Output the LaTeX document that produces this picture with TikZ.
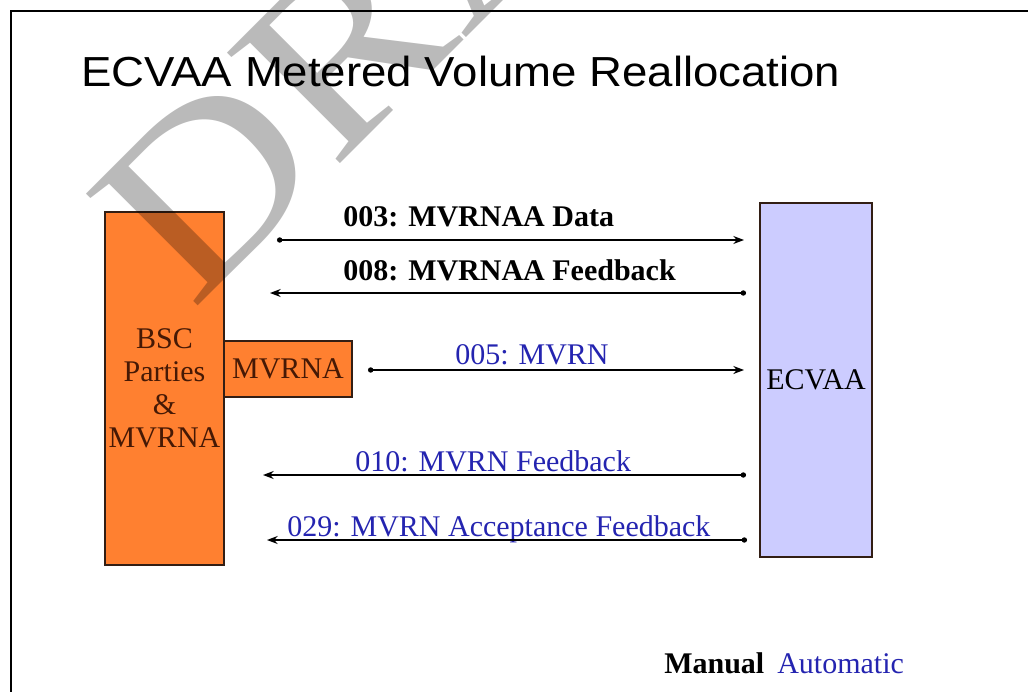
\documentclass[tikz,border=0pt]{standalone}
\usepackage{fontspec}
\setmainfont{Liberation Serif}
\newfontfamily\titlefont[FakeStretch=1.085]{Liberation Sans}
\newfontfamily\draftfont[FakeStretch=1.15]{Liberation Serif}
\usetikzlibrary{arrows.meta}
\definecolor{bscorange}{RGB}{255,128,48}
\definecolor{ecvaablue}{RGB}{204,204,255}
\definecolor{autoblue}{RGB}{36,36,176}
\definecolor{boxline}{RGB}{50,30,20}
\definecolor{bsctext}{RGB}{70,25,5}
\tikzset{
    box/.style={draw=boxline, line width=1.1pt, inner sep=0pt, align=center,
        font=\fontsize{22.5}{24.75}\selectfont},
    manmsg/.style={anchor=base west, inner sep=0pt, font=\fontsize{22.5}{25}\selectfont\bfseries},
    automsg/.style={anchor=base west, inner sep=0pt, text=autoblue, font=\fontsize{22.5}{25}\selectfont},
    msg/.style={line width=1pt, {Circle[length=4pt]}-{Stealth[length=8pt,width=6pt]}},
    watermark/.style={rotate=45, anchor=base west, inner sep=0pt, text=black,
        text opacity=0.27, font=\draftfont\fontsize{181}{200}\selectfont}
}

\begin{document}
\begin{tikzpicture}[x=0.75pt, y=-0.75pt]
    \useasboundingbox (0,0) rectangle (1028,692);
    \draw[line width=1.6pt] (11,692) -- (11,11) -- (1028,11);

    \node[anchor=base west, inner sep=0pt, font=\titlefont\fontsize{31.5}{36}\selectfont] (TITLE) at (81,87) {ECVAA Metered Volume Reallocation};

    % the three boxes
    \node[box, fill=bscorange, text=bsctext, minimum width=89.25pt, minimum height=264.75pt] (BSC) at (164.5,388.5) {BSC\\Parties\\\&\\MVRNA};
    \node[box, fill=bscorange, text=bsctext, minimum width=96pt, minimum height=42pt] (MVRNA) at (288,369) {MVRNA};
    \node[box, fill=ecvaablue, minimum width=84pt, minimum height=265.5pt] (ECVAA) at (816,380) {ECVAA};

    % flows
    \node[manmsg] (L003) at (343,226) {003: MVRNAA Data};
    \coordinate (S003) at (277,240);
    \coordinate (E003) at (744,240);
    \draw[msg] (S003) -- (E003);

    \node[manmsg] (L008) at (343,280) {008: MVRNAA Feedback};
    \coordinate (S008) at (746,293);
    \coordinate (E008) at (270,293);
    \draw[msg] (S008) -- (E008);

    \node[automsg] (L005) at (455,364) {005: MVRN};
    \coordinate (S005) at (368,370);
    \coordinate (E005) at (744,370);
    \draw[msg] (S005) -- (E005);

    \node[automsg] (L010) at (355,471) {010: MVRN Feedback};
    \coordinate (S010) at (746,475);
    \coordinate (E010) at (263,475);
    \draw[msg] (S010) -- (E010);

    \node[automsg] (L029) at (287,536) {029: MVRN Acceptance Feedback};
    \coordinate (S029) at (747,540);
    \coordinate (E029) at (267,540);
    \draw[msg] (S029) -- (E029);

    % key
    \node[manmsg] (MANUAL) at (664,673) {Manual};
    \node[automsg] (AUTO) at (777,673) {Automatic};

    \begin{scope}
        \clip (0,0) rectangle (1028,692);
        \node[watermark] (DRAFT) at (192,312) {DRAFT};
    \end{scope}
\end{tikzpicture}
\end{document}
